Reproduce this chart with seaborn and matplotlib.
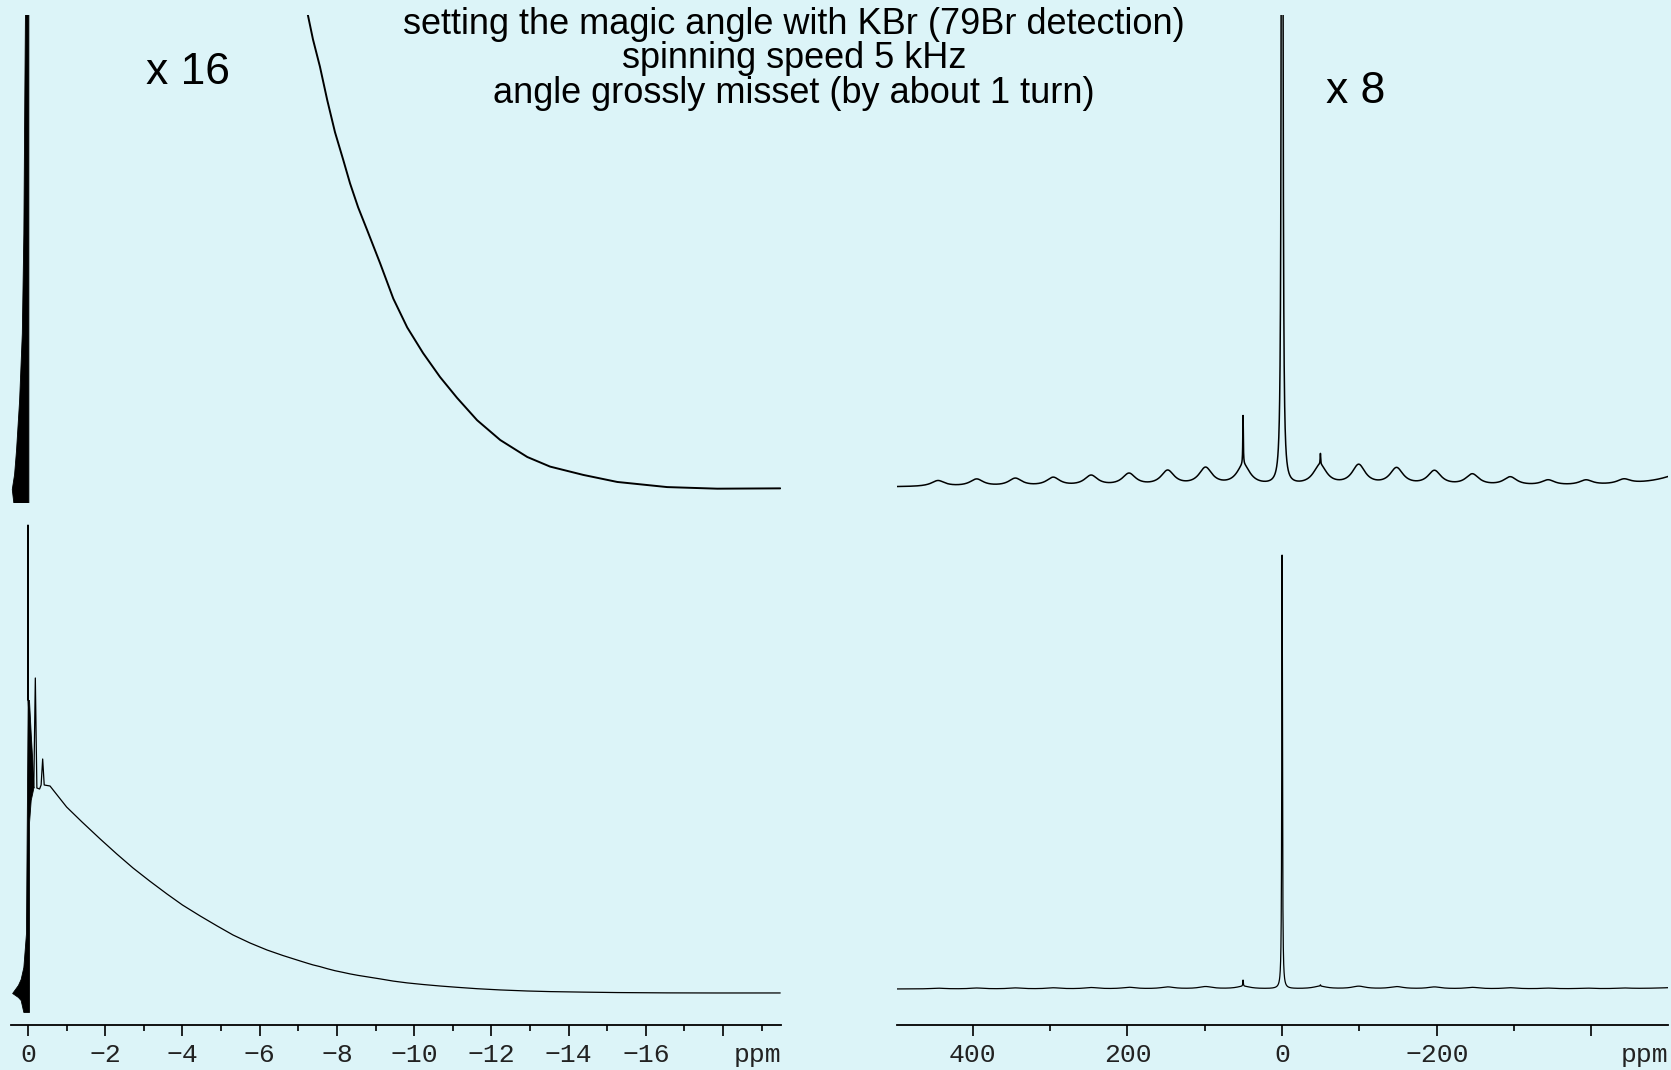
import numpy as np
import pandas as pd
import matplotlib
matplotlib.use("Agg")
import matplotlib.pyplot as plt
import seaborn as sns

# ---------------- data ----------------
# Left panels: signal height (pixels above baseline, lower panel scale), x in "ppm"
fid_ppm = [0.005, 0.0, -0.005, -0.137, -0.15, -0.19, -0.23, -0.30, -0.34, -0.38, -0.42,
           -0.57, -1.0, -1.4, -1.87, -2.3, -2.72, -3.15, -3.6, -4.0, -4.46, -4.9, -5.31,
           -5.75, -6.19, -6.6, -7.05, -7.25, -7.38, -7.56, -7.75, -7.95, -8.16, -8.34,
           -8.55, -8.78, -9.12, -9.46, -9.82, -10.23, -10.67, -11.11, -11.63, -12.23,
           -12.93, -13.52, -14.38, -15.26, -16.55, -17.85, -19.48]
fid_height = [293, 468, 293, 207, 205, 315, 205, 204, 208, 234, 208,
              207, 186, 171, 154, 139, 125, 112, 99, 88, 77, 67, 58,
              50, 43, 37.5, 32.0, 29.6, 28.1, 26.4, 24.3, 22.3, 20.6, 19.1,
              17.6, 16.2, 14.1, 11.9, 10.1, 8.5, 7.0, 5.7, 4.3, 3.06,
              2.0, 1.4, 0.88, 0.44, 0.12, 0.02, 0.04]
# dense (unresolved) start of the signal, lower panel
dense_ppm = [0.41, 0.26, 0.19, 0.12, 0.052, 0.034, 0.008, 0.0, -0.025, -0.026, -0.07, -0.11, -0.137]
dense_upper = [0, 8, 14, 26, 60, 160, 293, 293, 293, 293, 260, 233, 210]
dense_lower = [0, -4, -7, -19, -19, -19, -19, -19, -19, 170, 193, 200, 205]
# dense start of the signal, upper (x 16) panel
dense16_ppm = [0.42, 0.36, 0.31, 0.23, 0.16, 0.12, 0.096, 0.078, 0.0, -0.01]
dense16_upper = [0, 15, 39, 89, 156, 256, 389, 480, 480, 480]
dense16_lower = [0, -20, -20, -20, -20, -20, -20, -20, -20, -20]
left_gain = 16

# Right panels: line list (position ppm, height px in lower panel, width ppm)
peak_pos = [0.0, 50.5, -49.5,
            445, 395, 345, 296, 247, 198, 148, 99, 50,
            -49, -99, -148, -197, -246, -295, -344, -393, -442,
            -540]
peak_height = [440, 6.2, 1.4,
               0.74, 0.90, 0.98, 1.07, 1.31, 1.53, 1.88, 2.22, 2.56,
               2.56, 2.56, 2.16, 1.83, 1.42, 1.07, 0.68, 0.63, 0.60,
               2.6]
peak_width = [1.0, 0.8, 0.8,
              21, 21, 21, 21, 21, 21, 21, 21, 21,
              21, 21, 21, 21, 21, 21, 21, 21, 21,
              80]
right_gain = 8

left_major = [0, -2, -4, -6, -8, -10, -12, -14, -16, -18]
left_labels = ["0", "−2", "−4", "−6", "−8", "−10", "−12", "−14", "−16", ""]
left_minor = [-1, -3, -5, -7, -9, -11, -13, -15, -17, -19]
right_major = [400, 200, 0, -200, -400]
right_labels = ["400", "200", "0", "−200", ""]
right_minor = [300, 100, -100, -300]

title_lines = ["setting the magic angle with KBr (79Br detection)",
               "spinning speed 5 kHz",
               "angle grossly misset (by about 1 turn)"]

# ---------------- style ----------------
BG = "#dcf4f8"
sns.set_theme(style="white")
plt.rcParams["font.family"] = ["Liberation Sans", "DejaVu Sans"]
plt.rcParams["figure.facecolor"] = BG
plt.rcParams["axes.facecolor"] = BG

W, H = 1671, 1070
fig = plt.figure(figsize=(W / 100, H / 100), dpi=100)


def add_ax(x0, x1, ytop, ybot):
    ax = fig.add_axes([x0 / W, 1 - ybot / H, (x1 - x0) / W, (ybot - ytop) / H])
    ax.set_facecolor("none")
    for s in ax.spines.values():
        s.set_visible(False)
    return ax


ax_lt = add_ax(11, 781, 15, 502)
ax_lb = add_ax(11, 781, 510, 1025)
ax_rt = add_ax(897, 1668, 15, 502)
ax_rb = add_ax(897, 1668, 510, 1025)

LW = 0.9
# left panels
left_df = pd.DataFrame({"ppm": fid_ppm, "h": fid_height})
left_df["h16"] = left_df["h"] * left_gain
sns.lineplot(data=left_df, x="ppm", y="h", ax=ax_lb, color="black", lw=LW,
             sort=False, estimator=None)
sns.lineplot(data=left_df, x="ppm", y="h16", ax=ax_lt, color="black", lw=1.4,
             sort=False, estimator=None)
ax_lb.fill_between(dense_ppm, dense_lower, dense_upper, color="black", lw=0.6)
ax_lt.fill_between(dense16_ppm, dense16_lower, dense16_upper, color="black", lw=0.6)

# right panels
grid = np.linspace(498, -499, 8000)
spec = np.zeros_like(grid)
for p, h, w in zip(peak_pos, peak_height, peak_width):
    spec += h / (1 + ((grid - p) / (w / 2)) ** 2)
right_df = pd.DataFrame({"ppm": grid, "h": spec, "h8": spec * right_gain})
sns.lineplot(data=right_df, x="ppm", y="h", ax=ax_rb, color="black", lw=LW,
             sort=False, estimator=None)
sns.lineplot(data=right_df, x="ppm", y="h8", ax=ax_rt, color="black", lw=1.1,
             sort=False, estimator=None)

# limits (reversed ppm axes)
ax_lt.set_xlim(0.44, -19.5); ax_lb.set_xlim(0.44, -19.5)
ax_rt.set_xlim(498, -499); ax_rb.set_xlim(498, -499)
ax_lt.set_ylim(-13, 474)
ax_lb.set_ylim(-32, 483)
ax_rt.set_ylim(-15, 472)
ax_rb.set_ylim(-36, 479)

for ax in (ax_lt, ax_rt):
    ax.set_xticks([]); ax.set_yticks([])
    ax.set_xlabel(""); ax.set_ylabel("")

for ax, maj, lab, mnr in ((ax_lb, left_major, left_labels, left_minor),
                          (ax_rb, right_major, right_labels, right_minor)):
    ax.spines["bottom"].set_visible(True)
    ax.spines["bottom"].set_color("black")
    ax.spines["bottom"].set_linewidth(1.3)
    ax.set_yticks([])
    ax.set_xticks(maj)
    ax.set_xticklabels(lab, fontfamily="Liberation Mono", fontsize=19, color="#222222")
    ax.set_xticks(mnr, minor=True)
    ax.tick_params(axis="x", which="major", direction="out", length=8, width=1.2,
                   color="black", pad=5, bottom=True)
    ax.tick_params(axis="x", which="minor", direction="out", length=4, width=1.2,
                   color="black", bottom=True)
    ax.set_xlabel(""); ax.set_ylabel("")
    ax.text(1.0, -0.058, "ppm", transform=ax.transAxes, ha="right", va="center",
            fontfamily="Liberation Mono", fontsize=19, color="#222222")

# texts
for i, line in enumerate(title_lines):
    fig.text(794 / W, 1 - (34 + 34.5 * i) / H, line, ha="center", va="baseline",
             fontsize=26, color="black")
fig.text(188 / W, 1 - 84 / H, "x 16", ha="center", va="baseline", fontsize=32, color="black")
fig.text(1356 / W, 1 - 103 / H, "x 8", ha="center", va="baseline", fontsize=32, color="black")

fig.savefig("out.png", dpi=100, facecolor=BG)
